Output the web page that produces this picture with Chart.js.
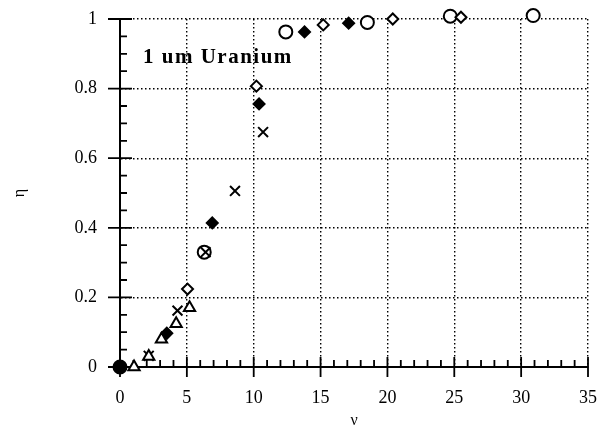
<!DOCTYPE html>
<html>
<head>
<meta charset="utf-8">
<script src="https://cdn.jsdelivr.net/npm/chart.js@4"></script>
<style>
  body{ margin:0; background:#fff; }
  canvas{ display:block; }
</style>
</head>
<body>
<canvas id="effChart" width="597" height="430"></canvas>
<script>
/* ========= DATA ========= */
const openCircleX   = [6.3, 12.4, 18.5, 24.7, 30.9];
const openCircleY   = [0.33, 0.963, 0.99, 1.008, 1.01];

const filledDiamondX = [0, 3.5, 6.9, 10.4, 13.8, 17.1];
const filledDiamondY = [0, 0.097, 0.414, 0.756, 0.963, 0.988];

const openDiamondX  = [5.05, 10.2, 15.2, 20.4, 25.5];
const openDiamondY  = [0.224, 0.807, 0.983, 1.0, 1.005];

const crossX        = [2.15, 4.3, 6.4, 8.6, 10.7];
const crossY        = [0.032, 0.162, 0.33, 0.506, 0.675];

const triangleX     = [1.05, 2.15, 3.1, 4.2, 5.2];
const triangleY     = [0, 0.03, 0.08, 0.124, 0.17];

const filledCircleX = [0];
const filledCircleY = [0];

const xTickValues = [0, 5, 10, 15, 20, 25, 30, 35];
const yTickValues = [0, 0.2, 0.4, 0.6, 0.8, 1];

const LABEL_TEXT = "1 um Uranium";

/* ========= HELPERS ========= */
const pts = (xs, ys) => xs.map((x, i) => ({x, y: ys[i]}));
const SERIF = "'Liberation Serif', 'DejaVu Serif', serif";

function series(xs, ys, style, radius, filled){
  return {
    data: pts(xs, ys),
    showLine: false,
    pointStyle: style,
    pointRadius: radius,
    pointHoverRadius: radius,
    pointBorderColor: "#000",
    pointBackgroundColor: filled ? "#000" : "#fff",
    pointBorderWidth: 2,
    clip: false
  };
}

/* ========= AXIS TICKS (crossing majors, inner minors) + label ========= */
const axisTicks = {
  id: "axisTicks",
  beforeDatasetsDraw(chart){
    const {ctx, chartArea:a, scales:{x, y}} = chart;
    ctx.save();
    ctx.strokeStyle = "#000";
    ctx.lineWidth = 1.8;
    ctx.setLineDash([]);
    ctx.beginPath();
    for (let v = x.min; v <= x.max + 1e-9; v += 1){
      const px = x.getPixelForValue(v);
      const major = xTickValues.includes(v);
      ctx.moveTo(px, a.bottom + (major ? 10 : 0));
      ctx.lineTo(px, a.bottom - (major ? 10 : 7));
    }
    for (let k = 0; k <= 20; k++){
      const py = y.getPixelForValue(k * 0.05);
      const major = k % 4 === 0;
      ctx.moveTo(a.left - (major ? 12 : 0), py);
      ctx.lineTo(a.left + (major ? 12 : 7), py);
    }
    ctx.stroke();
    ctx.restore();
  },
  afterDraw(chart){
    const {ctx} = chart;
    ctx.save();
    ctx.fillStyle = "#000";
    ctx.font = "bold 21px " + SERIF;
    ctx.letterSpacing = "1.5px";
    ctx.textBaseline = "alphabetic";
    ctx.fillText(LABEL_TEXT, 143, 63);
    ctx.restore();
  }
};

/* ========= CHART ========= */
const gridStyle = { color: "#000", lineWidth: 1.4, drawTicks: false };
const borderStyle = { display: true, color: "#000", width: 2, dash: [1.5, 2.5] };

new Chart(effChart, {
  type: "scatter",
  data: {
    datasets: [
      series(filledCircleX, filledCircleY, "circle", 6.5, true),
      series(triangleX, triangleY, "triangle", 6.5, false),
      series(crossX, crossY, "crossRot", 7, false),
      series(openDiamondX, openDiamondY, "rectRot", 5.5, false),
      series(filledDiamondX, filledDiamondY, "rectRot", 5.5, true),
      series(openCircleX, openCircleY, "circle", 6.5, false)
    ]
  },
  options: {
    responsive: false,
    animation: false,
    layout: { padding: { top: 19, right: 5, left: 0, bottom: 0 } },
    plugins: { legend: { display: false }, tooltip: { enabled: false } },
    scales: {
      x: {
        type: "linear",
        min: 0, max: 35,
        afterBuildTicks: s => { s.ticks = xTickValues.map(v => ({value: v})); },
        afterFit: s => { s.height = 63; s.paddingLeft = 0; s.paddingRight = 0; },
        grid: gridStyle,
        border: borderStyle,
        ticks: { color: "#000", font: { family: SERIF, size: 18 }, padding: 20, maxRotation: 0 },
        title: { display: true, text: "ν", color: "#000", font: { family: SERIF, size: 16 }, padding: { top: 0, bottom: 0 } }
      },
      y: {
        type: "linear",
        min: 0, max: 1,
        afterBuildTicks: s => { s.ticks = yTickValues.map(v => ({value: v})); },
        afterFit: s => { s.width = 120; s.paddingTop = 0; s.paddingBottom = 0; },
        grid: gridStyle,
        border: borderStyle,
        ticks: { color: "#000", font: { family: SERIF, size: 18 }, padding: 23, callback: v => String(v) },
        title: { display: true, text: "η", color: "#000", font: { family: SERIF, size: 16 }, padding: { top: 10, bottom: 0 } }
      }
    }
  },
  plugins: [axisTicks]
});
</script>
</body>
</html>
